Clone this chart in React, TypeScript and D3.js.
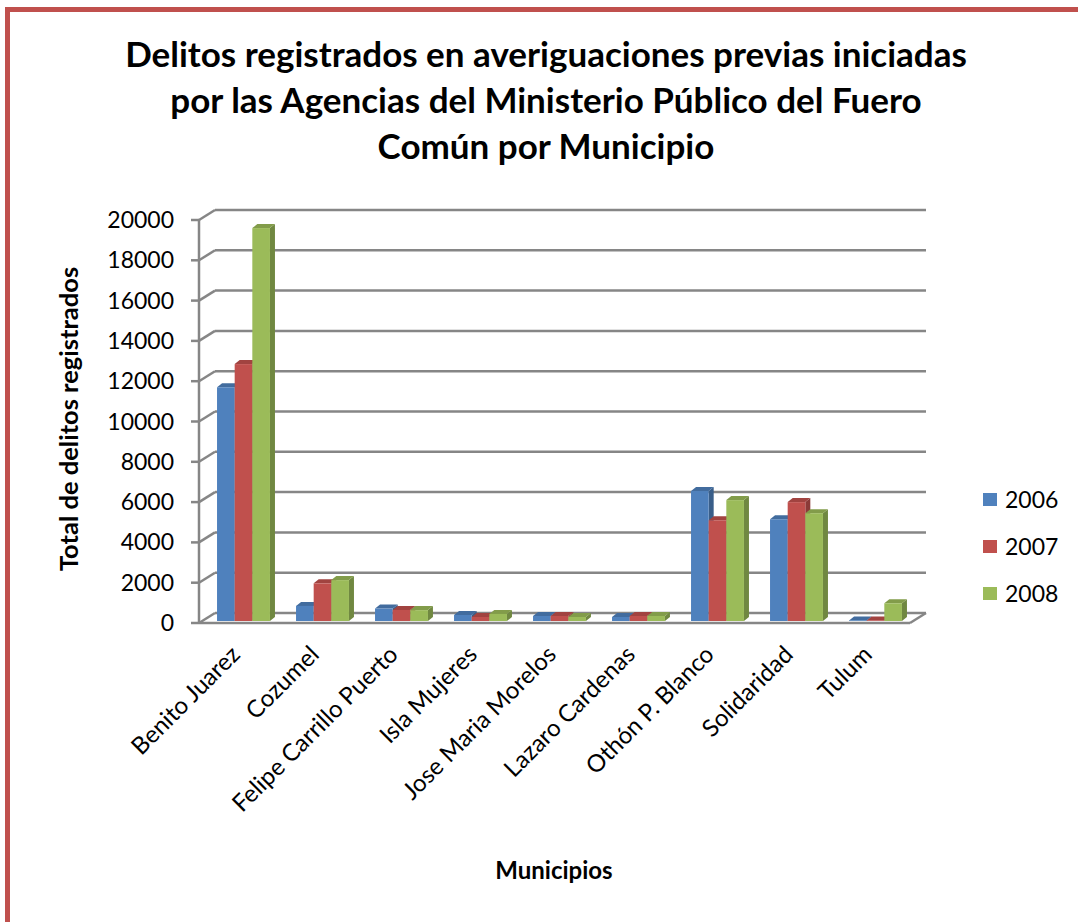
import React from 'react';
import * as d3 from 'd3';

const municipios = [
	'Benito Juarez',
	'Cozumel',
	'Felipe Carrillo Puerto',
	'Isla Mujeres',
	'Jose Maria Morelos',
	'Lazaro Cardenas',
	'Othón P. Blanco',
	'Solidaridad',
	'Tulum',
];
const years = ['2006', '2007', '2008'];
const v2006 = [11600, 750, 620, 300, 250, 200, 6450, 5050, 30];
const v2007 = [12750, 1870, 550, 200, 250, 250, 5000, 5900, 30];
const v2008 = [19500, 2030, 540, 350, 200, 250, 6000, 5350, 880];
const yTicks = [0, 2000, 4000, 6000, 8000, 10000, 12000, 14000, 16000, 18000, 20000];
const titleLines = [
	'Delitos registrados en averiguaciones previas iniciadas',
	'por las Agencias del Ministerio Público del Fuero',
	'Común por Municipio',
];

const series = [v2006, v2007, v2008];
const colors = ['#4f81bd', '#c0504d', '#9bbb59'];
const font = 'Lato, "Open Sans", sans-serif';

// front plane of the 3d box, back wall is shifted by depth
const front = { x0: 199, x1: 910, zero: 623, top: 220 };
const depth = { dx: 16, dy: -10 };
const barDepth = { dx: 5, dy: -4 };

const App = () => {
	const yFront = d3.scaleLinear().domain([0, 20000]).range([front.zero, front.top]);
	const yBar = d3.scaleLinear().domain([0, 20000]).range([621, 218]);
	const x = d3.scaleBand().domain(municipios).range([204, 915]).paddingInner(0.33).paddingOuter(0.165);
	const xs = d3.scaleBand().domain(years).range([0, x.bandwidth()]);

	const bx0 = front.x0 + depth.dx;
	const bx1 = front.x1 + depth.dx;

	return (
		<svg width={1078} height={922} style={{ position: 'absolute', left: 0, top: 0, background: '#fff' }}>
			<rect x={7.5} y={9.5} width={1200} height={1000} fill="none" stroke="#c0504d" strokeWidth={5} />

			{titleLines.map((t, i) => (
				<text key={t} x={546} y={67 + i * 46} textAnchor="middle" fontFamily={font} fontWeight="bold" fontSize={35} fill="#000">
					{t}
				</text>
			))}

			{/* walls and gridlines */}
			<g stroke="#868686" strokeWidth={2.5} fill="none">
				{yTicks.map((t) => (
					<g key={t}>
						<line x1={front.x0} y1={yFront(t)} x2={bx0} y2={yFront(t) + depth.dy} />
						<line x1={bx0} y1={yFront(t) + depth.dy} x2={bx1} y2={yFront(t) + depth.dy} />
						<line x1={front.x0 - 8} y1={yFront(t)} x2={front.x0} y2={yFront(t)} />
					</g>
				))}
				<line x1={front.x0} y1={front.top} x2={front.x0} y2={front.zero} />
				<line x1={front.x0} y1={front.zero} x2={front.x1} y2={front.zero} />
				<line x1={front.x1} y1={front.zero} x2={bx1} y2={front.zero + depth.dy} />
			</g>

			{yTicks.map((t) => (
				<text key={t} x={174} y={yFront(t)} dy="0.35em" textAnchor="end" fontFamily={font} fontSize={23} fill="#000">
					{t}
				</text>
			))}

			{/* bars */}
			{municipios.map((m, i) => (
				<g key={m}>
					{series.map((s, j) => {
						const c = d3.color(colors[j]);
						const left = x(m) + xs(years[j]);
						const right = left + xs.bandwidth();
						const top = yBar(s[i]);
						const bottom = yBar(0);
						const top3 = `${left},${top} ${right},${top} ${right + barDepth.dx},${top + barDepth.dy} ${left + barDepth.dx},${top + barDepth.dy}`;
						const side = `${right},${top} ${right + barDepth.dx},${top + barDepth.dy} ${right + barDepth.dx},${bottom + barDepth.dy} ${right},${bottom}`;
						return (
							<g key={j}>
								<polygon points={side} fill={c.darker(0.9).toString()} />
								<polygon points={top3} fill={c.darker(0.5).toString()} />
								<rect x={left} y={top} width={xs.bandwidth()} height={bottom - top} fill={colors[j]} />
							</g>
						);
					})}
				</g>
			))}

			{municipios.map((m) => (
				<text
					key={m}
					transform={`translate(${x(m) + x.bandwidth() / 2 - 2}, 656) rotate(-45)`}
					textAnchor="end"
					fontFamily={font}
					fontSize={24}
					fill="#000"
				>
					{m}
				</text>
			))}

			<text transform="translate(78, 419) rotate(-90)" textAnchor="middle" fontFamily={font} fontWeight="bold" fontSize={25.5} fill="#000">
				Total de delitos registrados
			</text>
			<text x={554} y={879} textAnchor="middle" fontFamily={font} fontWeight="bold" fontSize={24} fill="#000">
				Municipios
			</text>

			{years.map((yr, j) => (
				<g key={yr} transform={`translate(983, ${493 + j * 47})`}>
					<rect width={14} height={13} fill={colors[j]} />
					<text x={22} y={6.5} dy="0.35em" fontFamily={font} fontSize={23} fill="#000">
						{yr}
					</text>
				</g>
			))}
		</svg>
	);
};

export default App;
